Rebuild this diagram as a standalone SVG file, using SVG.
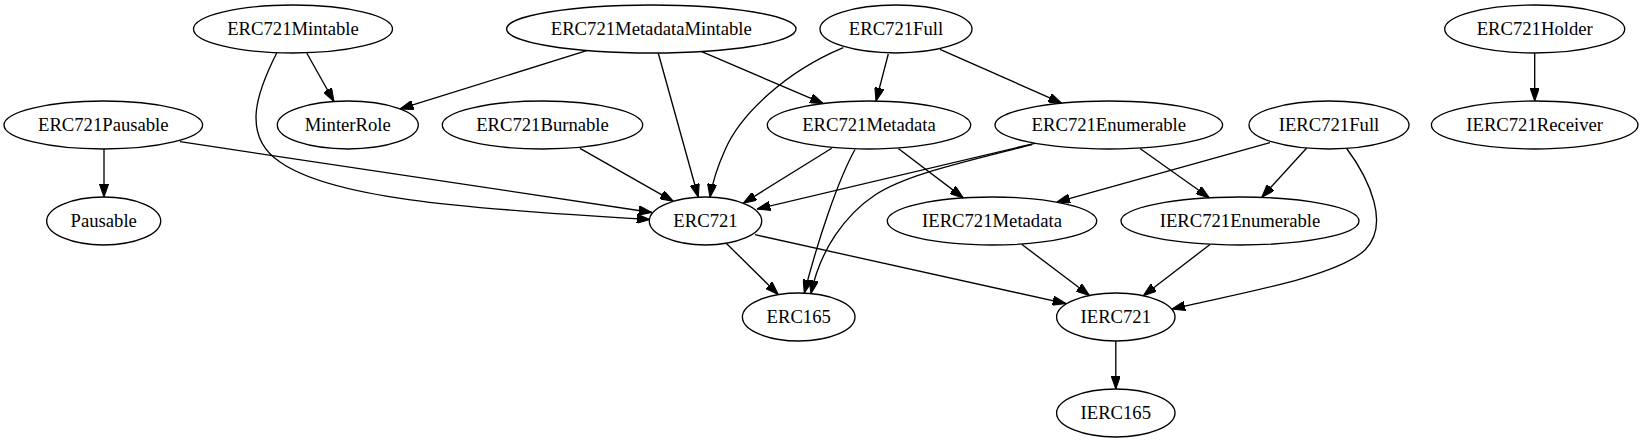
<svg xmlns="http://www.w3.org/2000/svg" width="1643" height="443" viewBox="0 0 1643 443">
<style>
.n ellipse{fill:none;stroke:#000;stroke-width:1.33}
.n text{font-family:"Liberation Serif","Times New Roman",serif;font-size:18.67px;text-anchor:middle;fill:#000}
#edges path{fill:none;stroke:#000;stroke-width:1.33;marker-end:url(#arr)}
</style>
<defs>
<marker id="arr" viewBox="0 0 10 7" markerUnits="userSpaceOnUse" markerWidth="13.33" markerHeight="9.33" refX="10" refY="3.5" orient="auto">
<path d="M0,0 L10,3.5 L0,7 z" fill="#000" stroke="#000" stroke-width="0.8"/>
</marker>
</defs>
<rect width="1643" height="443" fill="#fff"/>
<g id="edges">
<path d="M306.7,53 L334,101.5"/>
<path d="M276.7,53 C258,90 240,135 280,162 C330,197 450,208 650,219.5"/>
<path d="M104,149 L104,197"/>
<path d="M180,141.7 L652,212.5"/>
<path d="M586.7,50.7 L400,108.9"/>
<path d="M658.3,53.3 L698.3,197.2"/>
<path d="M701.7,51.7 L823.3,103.6"/>
<path d="M888.3,54 L876,101.1"/>
<path d="M843.3,47.7 C785,72 740,115 725,150 C716,170 712,185 710,197.2"/>
<path d="M940,49.3 L1061.7,103.2"/>
<path d="M580,148.3 L673.3,201.3"/>
<path d="M831.7,148.3 L743.3,203.2"/>
<path d="M855,149.5 C838,180 818,240 804.3,293.1"/>
<path d="M898.3,148.5 L963.3,197.9"/>
<path d="M1035,143.3 L757,209"/>
<path d="M1032,144.5 C960,163 905,175 875,195 C845,215 820,250 811,293.6"/>
<path d="M1140,148.5 L1209.3,197.8"/>
<path d="M1270,142.7 L1056.7,202.1"/>
<path d="M1306.7,148 L1261.7,197.4"/>
<path d="M1346.7,148.5 C1370,180 1390,225 1365,250 C1335,278 1230,295 1171.7,309.1"/>
<path d="M726.7,243.7 L778.3,294.6"/>
<path d="M755,234.7 L1066,303.6"/>
<path d="M1021.7,244.3 L1089.5,295.5"/>
<path d="M1210,244.5 L1143.3,295.7"/>
<path d="M1115.8,341 L1115.8,389"/>
<path d="M1534.7,53 L1534.7,101"/>
</g>
<g id="ERC721Mintable" class="n"><ellipse cx="293" cy="29" rx="99.5" ry="24"/><text x="293" y="34.6">ERC721Mintable</text></g>
<g id="ERC721MetadataMintable" class="n"><ellipse cx="651.3" cy="29" rx="144.7" ry="24"/><text x="651.3" y="34.6">ERC721MetadataMintable</text></g>
<g id="ERC721Full" class="n"><ellipse cx="896" cy="29" rx="76" ry="24"/><text x="896" y="34.6">ERC721Full</text></g>
<g id="ERC721Holder" class="n"><ellipse cx="1534.7" cy="29" rx="90" ry="24"/><text x="1534.7" y="34.6">ERC721Holder</text></g>
<g id="ERC721Pausable" class="n"><ellipse cx="103.3" cy="125" rx="99.3" ry="24"/><text x="103.3" y="130.6">ERC721Pausable</text></g>
<g id="MinterRole" class="n"><ellipse cx="347.8" cy="125" rx="70.5" ry="24"/><text x="347.8" y="130.6">MinterRole</text></g>
<g id="ERC721Burnable" class="n"><ellipse cx="542.5" cy="125" rx="100.2" ry="24"/><text x="542.5" y="130.6">ERC721Burnable</text></g>
<g id="ERC721Metadata" class="n"><ellipse cx="869" cy="125" rx="101.7" ry="24"/><text x="869" y="130.6">ERC721Metadata</text></g>
<g id="ERC721Enumerable" class="n"><ellipse cx="1108.8" cy="125" rx="113.8" ry="24"/><text x="1108.8" y="130.6">ERC721Enumerable</text></g>
<g id="IERC721Full" class="n"><ellipse cx="1329" cy="125" rx="80" ry="24"/><text x="1329" y="130.6">IERC721Full</text></g>
<g id="IERC721Receiver" class="n"><ellipse cx="1534.7" cy="125" rx="103.3" ry="24"/><text x="1534.7" y="130.6">IERC721Receiver</text></g>
<g id="Pausable" class="n"><ellipse cx="103.7" cy="221" rx="57" ry="24"/><text x="103.7" y="226.6">Pausable</text></g>
<g id="ERC721" class="n"><ellipse cx="705.5" cy="221" rx="56.2" ry="24"/><text x="705.5" y="226.6">ERC721</text></g>
<g id="IERC721Metadata" class="n"><ellipse cx="992" cy="221" rx="104.7" ry="24"/><text x="992" y="226.6">IERC721Metadata</text></g>
<g id="IERC721Enumerable" class="n"><ellipse cx="1240" cy="221" rx="119" ry="24"/><text x="1240" y="226.6">IERC721Enumerable</text></g>
<g id="ERC165" class="n"><ellipse cx="798.7" cy="317" rx="56.3" ry="24"/><text x="798.7" y="322.6">ERC165</text></g>
<g id="IERC721" class="n"><ellipse cx="1115.8" cy="317" rx="59.2" ry="24"/><text x="1115.8" y="322.6">IERC721</text></g>
<g id="IERC165" class="n"><ellipse cx="1115.8" cy="413" rx="59.2" ry="24"/><text x="1115.8" y="418.6">IERC165</text></g>
</svg>
